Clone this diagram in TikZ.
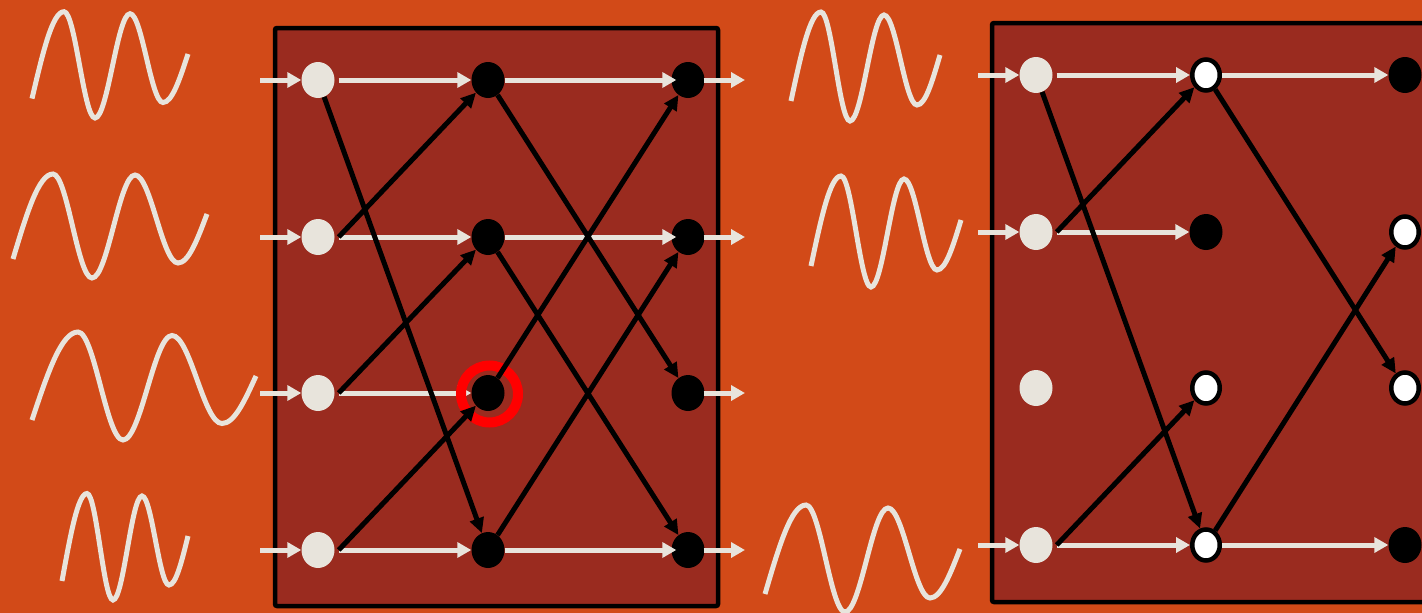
\documentclass[tikz,border=0pt]{standalone}
\usetikzlibrary{shapes.geometric,arrows.meta}
\definecolor{bgorange}{HTML}{D24A18}
\definecolor{panelred}{HTML}{9A2B1F}
\definecolor{lightc}{HTML}{E8E4DC}
\tikzset{
 innode/.style={ellipse, fill=lightc, minimum width=33pt, minimum height=36pt, inner sep=0pt},
 blknode/.style={ellipse, fill=black, minimum width=33pt, minimum height=36pt, inner sep=0pt},
 whtnode/.style={ellipse, fill=white, draw=black, line width=4.5pt, minimum width=27.5pt, minimum height=31pt, inner sep=0pt},
 larrow/.style={draw=lightc, line width=5pt, -{Triangle[length=14pt,width=15pt]}},
 barrow/.style={draw=black, line width=5pt, -{Triangle[length=15pt,width=14pt]}},
 panelbox/.style={fill=panelred, draw=black, line width=4.5pt, rounded corners=2pt},
 wave/.style={draw=lightc, line width=5pt},
}
\begin{document}
\begin{tikzpicture}[x=1pt,y=-1pt]
\useasboundingbox (0,0) rectangle (1422,613);
\clip (0,0) rectangle (1422,613);
\fill[bgorange] (0,0) rectangle (1422,613);
% panels
\draw[panelbox] (275,28) rectangle (718,606);
\draw[panelbox] (992,23) rectangle (1450,602);
% waves left
\draw[wave] (32,98.6) .. controls (42.7,53) and (52.4,11.7) .. (64,11.7)
  .. controls (75.3,11.7) and (83.7,118) .. (95,118)
  .. controls (107.7,118) and (117.3,13.7) .. (130,13.7)
  .. controls (142,13.7) and (151,102.5) .. (163,102.5)
  .. controls (172.1,102.5) and (179.6,79.5) .. (188,54);
\draw[wave] (13,259) .. controls (26.4,214.4) and (38.5,174) .. (53,174)
  .. controls (67.2,174) and (77.8,278) .. (92,278)
  .. controls (107.7,278) and (119.3,175) .. (135,175)
  .. controls (150.7,175) and (162.3,263) .. (178,263)
  .. controls (188.6,263) and (197.3,239.7) .. (207,214);
\draw[wave] (32,420) .. controls (47.4,373.8) and (61.3,332) .. (78,332)
  .. controls (94.4,332) and (106.6,440) .. (123,440)
  .. controls (140.8,440) and (154.2,335.5) .. (172,335.5)
  .. controls (190.2,335.5) and (203.8,423.5) .. (222,423.5)
  .. controls (234.4,423.5) and (244.6,400.9) .. (256,376);
\draw[wave] (62,581) .. controls (70.4,535.1) and (77.9,493.5) .. (87,493.5)
  .. controls (96.5,493.5) and (103.5,600) .. (113,600)
  .. controls (123.6,600) and (131.4,496) .. (142,496)
  .. controls (151.8,496) and (159.2,585) .. (169,585)
  .. controls (175.9,585) and (181.7,561.7) .. (188,536);
% waves right
\draw[wave] (791,101) .. controls (801,54.3) and (810.1,12) .. (821,12)
  .. controls (831.6,12) and (839.4,121) .. (850,121)
  .. controls (862.4,121) and (871.6,15) .. (884,15)
  .. controls (896,15) and (905,105) .. (917,105)
  .. controls (925.4,105) and (932.3,81.3) .. (940,55);
\draw[wave] (811,266) .. controls (821,218.7) and (830.1,176) .. (841,176)
  .. controls (851.9,176) and (860.1,287) .. (871,287)
  .. controls (883,287) and (892,179) .. (904,179)
  .. controls (916,179) and (925,270) .. (937,270)
  .. controls (945.7,270) and (953,246.3) .. (961,220);
\draw[wave] (765,594) .. controls (778.7,547.3) and (791.1,505) .. (806,505)
  .. controls (820.2,505) and (830.8,612) .. (845,612)
  .. controls (860.7,612) and (872.3,508) .. (888,508)
  .. controls (903.3,508) and (914.7,598) .. (930,598)
  .. controls (940.9,598) and (950,574.7) .. (960,549);
% left nodes
\foreach \r/\y in {1/80,2/237,3/393,4/550}{
  \node[innode] (li\r) at (318,\y) {};
  \node[blknode] (lm\r) at (488,\y) {};
  \node[blknode] (lo\r) at (688,\y) {};
  \coordinate (lin\r) at (260,\y);
  \coordinate (lout\r) at (745,\y);
}
% right nodes
\node[innode] (ri1) at (1036,75) {};
\node[innode] (ri2) at (1036,232) {};
\node[innode] (ri3) at (1036,388) {};
\node[innode] (ri4) at (1036,545) {};
\node[whtnode] (rm1) at (1206,75) {};
\node[blknode] (rm2) at (1206,232) {};
\node[whtnode] (rm3) at (1206,388) {};
\node[whtnode] (rm4) at (1206,545) {};
\node[blknode] (ro1) at (1405,75) {};
\node[whtnode] (ro2) at (1405,232) {};
\node[whtnode] (ro3) at (1405,388) {};
\node[blknode] (ro4) at (1405,545) {};
\coordinate (rin1) at (978,75);
\coordinate (rin2) at (978,232);
\coordinate (rin4) at (978,545);
% left light arrows
\foreach \r in {1,2,3,4}{
  \draw[larrow] (lin\r) -- (li\r);
  \draw[larrow] ([xshift=4pt]li\r.east) -- (lm\r);
  \draw[larrow] ([xshift=-1pt]lo\r.east) -- (lout\r);
}
\foreach \r in {1,2,4}{
  \draw[larrow] (lm\r) -- ([xshift=5pt]lo\r.west);
}
% right light arrows
\foreach \r in {1,2,4}{
  \draw[larrow] (rin\r) -- (ri\r);
  \draw[larrow] ([xshift=4pt]ri\r.east) -- (rm\r);
}
\draw[larrow] (rm1) -- (ro1);
\draw[larrow] (rm4) -- (ro4);
% highlight ring
\node[draw=red, line width=10pt, circle, minimum size=57pt, inner sep=0pt] (ring) at (489.5,394) {};
% left black arrows
\draw[barrow] (li1) -- (lm4);
\draw[barrow] ([xshift=4pt]li2.east) -- (lm1);
\draw[barrow] ([xshift=4pt]li3.east) -- (lm2);
\draw[barrow] ([xshift=4pt]li4.east) -- (lm3);
\draw[barrow] (lm1) -- (lo3);
\draw[barrow] (lm2) -- (lo4);
\draw[barrow] (lm3) -- (lo1);
\draw[barrow] (lm4) -- (lo2);
% right black arrows
\draw[barrow] (ri1) -- (rm4);
\draw[barrow] ([xshift=4pt]ri2.east) -- (rm1);
\draw[barrow] ([xshift=4pt]ri4.east) -- (rm3);
\draw[barrow] (rm1) -- (ro3);
\draw[barrow] (rm4) -- (ro2);
\end{tikzpicture}
\end{document}
